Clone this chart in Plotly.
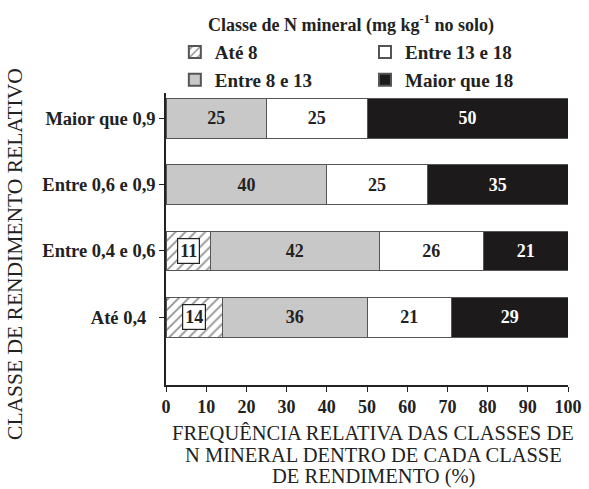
import plotly.graph_objects as go

categories = ["Até 0,4\u00a0\u00a0", "Entre 0,4 e 0,6", "Entre 0,6 e 0,9", "Maior que 0,9"]
series_names = ["Até 8", "Entre 8 e 13", "Entre 13 e 18", "Maior que 18"]
ate_8 = [14, 11, 0, 0]
entre_8_13 = [36, 42, 40, 25]
entre_13_18 = [21, 26, 25, 25]
maior_18 = [29, 21, 35, 50]
x_ticks = [0, 10, 20, 30, 40, 50, 60, 70, 80, 90, 100]
x_title_lines = ["FREQUÊNCIA RELATIVA DAS CLASSES DE",
                 "N MINERAL DENTRO DE CADA CLASSE",
                 "DE RENDIMENTO (%)"]
y_title = "CLASSE DE RENDIMENTO RELATIVO"
legend_title = "Classe de N mineral (mg kg<sup>-1</sup> no solo)"

FONT = "Liberation Serif, Times New Roman, serif"
ypos = list(range(len(categories)))

fig = go.Figure()
line = dict(color="#555555", width=1)
lbl = dict(family=FONT, size=18, color="#222222", weight="bold")
fig.add_trace(go.Bar(
    y=ypos, x=ate_8, orientation="h", name=series_names[0], width=0.6,
    marker=dict(color="white", line=line,
                pattern=dict(shape="/", fgcolor="#222222", bgcolor="white", size=7, solidity=0.25)),
    legend="legend", hoverinfo="x"))
fig.add_trace(go.Bar(
    y=ypos, x=entre_8_13, orientation="h", name=series_names[1], width=0.6,
    marker=dict(color="#c8c8c8", line=line), legend="legend",
    text=[str(v) for v in entre_8_13], textposition="inside", insidetextanchor="middle",
    textfont=lbl, textangle=0))
fig.add_trace(go.Bar(
    y=ypos, x=entre_13_18, orientation="h", name=series_names[2], width=0.6,
    marker=dict(color="white", line=line), legend="legend2",
    text=[str(v) for v in entre_13_18], textposition="inside", insidetextanchor="middle",
    textfont=lbl, textangle=0))
fig.add_trace(go.Bar(
    y=ypos, x=maior_18, orientation="h", name=series_names[3], width=0.6,
    marker=dict(color="#1c1a1b", line=line), legend="legend2",
    text=[str(v) for v in maior_18], textposition="inside", insidetextanchor="middle",
    textfont=dict(lbl, color="white"), textangle=0))

for i, v in enumerate(ate_8):
    if v > 0:
        fig.add_annotation(x=v / 2, y=ypos[i], text=f"<b>{v}</b>", showarrow=False,
                           font=dict(family=FONT, size=18, color="#222222"),
                           bgcolor="white", bordercolor="#222222", borderwidth=1.2, borderpad=2)

fig.add_annotation(xref="paper", yref="paper", x=0.46, y=1.236, xanchor="center", yanchor="middle",
                   text=f"<b>{legend_title}</b>", showarrow=False,
                   font=dict(family=FONT, size=18, color="#222222"))

for k, (txt, yp) in enumerate(zip(x_title_lines, [-0.164, -0.240, -0.315])):
    fig.add_annotation(xref="paper", yref="paper", x=0.515, y=yp, xanchor="center", yanchor="middle",
                       text=txt, showarrow=False, font=dict(family=FONT, size=20.5, color="#222222"))

fig.add_annotation(xref="paper", yref="paper", x=-0.3756, y=0.449, xanchor="center", yanchor="middle",
                   text=y_title, textangle=-90, showarrow=False,
                   font=dict(family=FONT, size=21.5, color="#222222"))

legend_common = dict(
    orientation="v", yanchor="top", xanchor="left",
    font=dict(family=FONT, size=19, weight="bold", color="#222222"),
    bgcolor="rgba(0,0,0,0)", tracegroupgap=0, itemsizing="constant", traceorder="normal",
)

fig.update_layout(
    width=589, height=489,
    barmode="stack",
    paper_bgcolor="white", plot_bgcolor="white",
    margin=dict(l=166, r=21, t=93, b=104, autoexpand=False),
    font=dict(family=FONT, color="#222222"),
    showlegend=True,
    legend=dict(x=0.022, y=1.205, **legend_common),
    legend2=dict(x=0.495, y=1.205, **legend_common),
    xaxis=dict(
        range=[0, 100], tickvals=x_ticks, ticktext=[str(t) for t in x_ticks],
        showgrid=False, zeroline=False, showline=True, linecolor="#222222", linewidth=1.5,
        ticks="outside", ticklen=5, tickcolor="#222222", automargin=False,
        tickfont=dict(family=FONT, size=18, weight="bold"),
    ),
    yaxis=dict(
        range=[-1.02, 3.38], tickvals=ypos, ticktext=categories,
        showgrid=False, zeroline=False, showline=True, linecolor="#222222", linewidth=1.5,
        ticks="outside", ticklen=5, tickcolor="#222222", automargin=False,
        tickfont=dict(family=FONT, size=18.5, weight="bold"),
    ),
)

# remove the browser's default 8px body margin so the figure fills the window exactly
fig.write_html("out.html", config={"displayModeBar": False},
               post_script="document.body.style.margin='0';")
